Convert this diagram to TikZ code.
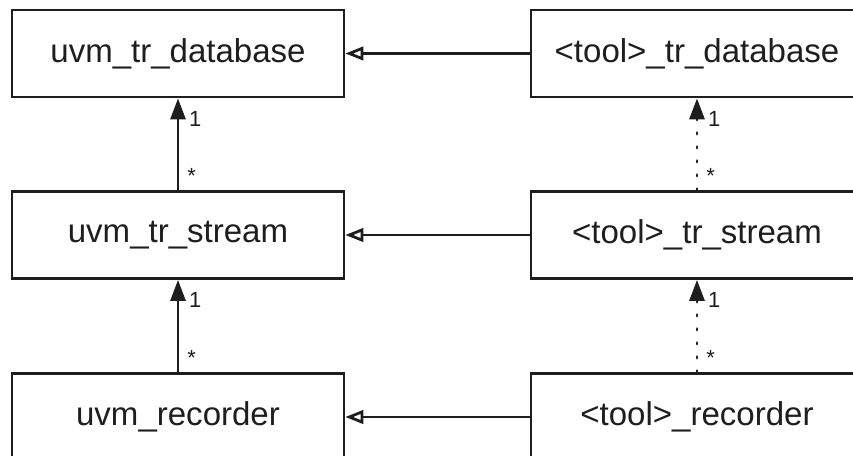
\documentclass[tikz,border=0pt]{standalone}
\usepackage{fontspec}
\setmainfont{Liberation Sans}
\usepackage{tikz}
\usetikzlibrary{arrows.meta, positioning, calc}
\definecolor{ink}{RGB}{30,30,30}

\tikzset{
  classbox/.style={draw=ink, line width=1.6pt, fill=white, minimum width=6.64cm, minimum height=1.74cm,
    font=\fontsize{18.8}{22}\selectfont, text=ink},
  extends/.style={line width=1.6pt, draw=ink, -{Triangle[open, length=0.36cm, width=0.27cm, fill=white]}},
  assoc/.style={line width=1.6pt, draw=ink, -{Triangle[length=0.42cm, width=0.3cm]}},
  toolassoc/.style={assoc, line cap=round, dash pattern=on 0.03cm off 0.25cm},
  mult/.style={font=\fontsize{12.5}{14}\selectfont, text=ink, inner sep=1.5pt}
}

\begin{document}
\begin{tikzpicture}[x=0.02cm, y=-0.02cm]
  \useasboundingbox (0,0) rectangle (853,456);
  \clip (0,0) rectangle (853,456);
  \fill[white] (0,0) rectangle (853,456);
  % UVM side
  \node[classbox] (db) at (178,53.5) {uvm\_tr\_database};
  \node[classbox] (str) at (178,235) {uvm\_tr\_stream};
  \node[classbox] (rec) at (178,417) {uvm\_recorder};
  % tool side
  \node[classbox] (tdb) at (697,53.5) {<tool>\_tr\_database};
  \node[classbox] (tstr) at (697,235) {<tool>\_tr\_stream};
  \node[classbox] (trec) at (697,417) {<tool>\_recorder};
  % inheritance
  \draw[extends] (tdb.west) -- (db.east);
  \draw[extends] (tstr.west) -- (str.east);
  \draw[extends] (trec.west) -- (rec.east);
  % associations
  \draw[assoc] (str.north) -- node[mult, pos=0.15, right=3pt] {*} node[mult, pos=0.78, right=4pt] {1} (db.south);
  \draw[assoc] (rec.north) -- node[mult, pos=0.15, right=3pt] {*} node[mult, pos=0.78, right=4pt] {1} (str.south);
  \draw[toolassoc] (tstr.north) -- node[mult, pos=0.15, right=3pt] {*} node[mult, pos=0.78, right=4pt] {1} (tdb.south);
  \draw[toolassoc] (trec.north) -- node[mult, pos=0.15, right=3pt] {*} node[mult, pos=0.78, right=4pt] {1} (tstr.south);
\end{tikzpicture}
\end{document}
